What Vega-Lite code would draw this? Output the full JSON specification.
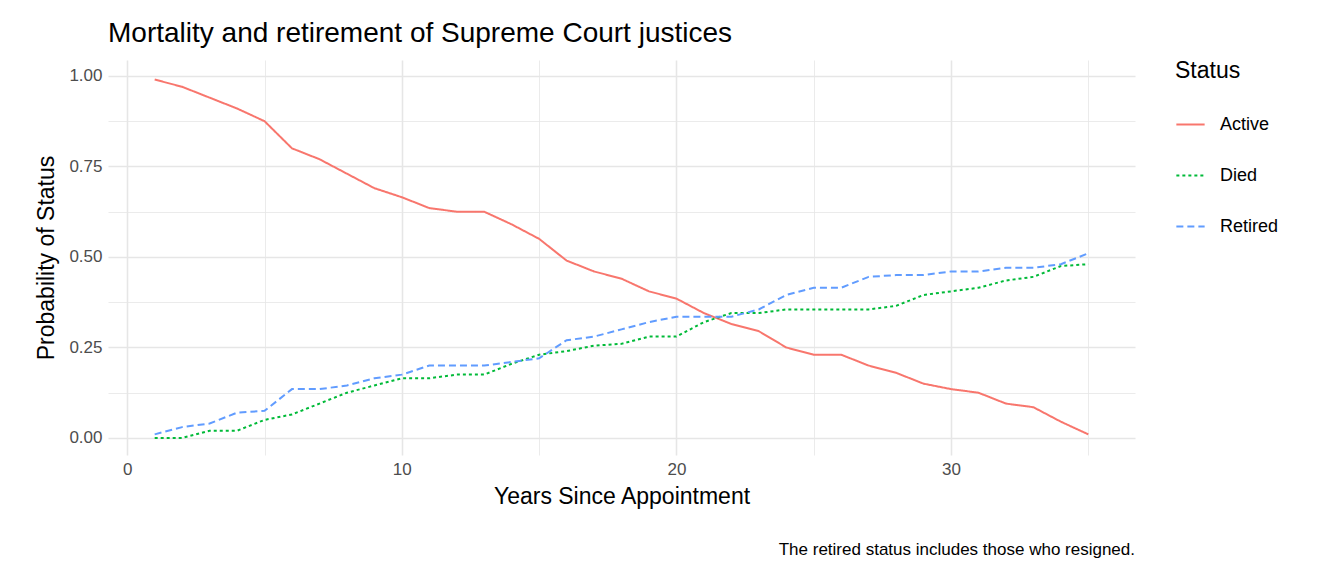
{
  "$schema": "https://vega.github.io/schema/vega-lite/v6.json",
  "autosize": "none",
  "width": 1027,
  "height": 395,
  "padding": {"left": 108, "top": 60, "right": 209, "bottom": 121},
  "background": "white",
  "title": {"text": "Mortality and retirement of Supreme Court justices", "anchor": "start", "frame": "group", "fontSize": 28, "fontWeight": "normal", "font": "Liberation Sans", "color": "black", "offset": 12},
  "data": {"values": [
    {"y":1,"Active":0.99,"Died":0,"Retired":0.01},
    {"y":2,"Active":0.97,"Died":0,"Retired":0.03},
    {"y":3,"Active":0.94,"Died":0.02,"Retired":0.04},
    {"y":4,"Active":0.91,"Died":0.02,"Retired":0.07},
    {"y":5,"Active":0.875,"Died":0.05,"Retired":0.075},
    {"y":6,"Active":0.80,"Died":0.065,"Retired":0.135},
    {"y":7,"Active":0.77,"Died":0.095,"Retired":0.135},
    {"y":8,"Active":0.73,"Died":0.125,"Retired":0.145},
    {"y":9,"Active":0.69,"Died":0.145,"Retired":0.165},
    {"y":10,"Active":0.665,"Died":0.165,"Retired":0.175},
    {"y":11,"Active":0.635,"Died":0.165,"Retired":0.2},
    {"y":12,"Active":0.625,"Died":0.175,"Retired":0.2},
    {"y":13,"Active":0.625,"Died":0.175,"Retired":0.2},
    {"y":14,"Active":0.59,"Died":0.205,"Retired":0.21},
    {"y":15,"Active":0.55,"Died":0.23,"Retired":0.22},
    {"y":16,"Active":0.49,"Died":0.24,"Retired":0.27},
    {"y":17,"Active":0.46,"Died":0.255,"Retired":0.28},
    {"y":18,"Active":0.44,"Died":0.26,"Retired":0.3},
    {"y":19,"Active":0.405,"Died":0.28,"Retired":0.32},
    {"y":20,"Active":0.385,"Died":0.28,"Retired":0.335},
    {"y":21,"Active":0.345,"Died":0.32,"Retired":0.335},
    {"y":22,"Active":0.315,"Died":0.345,"Retired":0.335},
    {"y":23,"Active":0.295,"Died":0.345,"Retired":0.355},
    {"y":24,"Active":0.25,"Died":0.355,"Retired":0.395},
    {"y":25,"Active":0.23,"Died":0.355,"Retired":0.415},
    {"y":26,"Active":0.23,"Died":0.355,"Retired":0.415},
    {"y":27,"Active":0.2,"Died":0.355,"Retired":0.445},
    {"y":28,"Active":0.18,"Died":0.365,"Retired":0.45},
    {"y":29,"Active":0.15,"Died":0.395,"Retired":0.45},
    {"y":30,"Active":0.135,"Died":0.405,"Retired":0.46},
    {"y":31,"Active":0.125,"Died":0.415,"Retired":0.46},
    {"y":32,"Active":0.095,"Died":0.435,"Retired":0.47},
    {"y":33,"Active":0.085,"Died":0.445,"Retired":0.47},
    {"y":34,"Active":0.045,"Died":0.475,"Retired":0.48},
    {"y":35,"Active":0.01,"Died":0.48,"Retired":0.51}
  ]},
  "layer": [
    {
      "transform": [{"fold": ["Active", "Died", "Retired"], "as": ["Status", "p"]}],
      "mark": {"type": "line", "strokeWidth": 2},
      "encoding": {
        "x": {"field": "y", "type": "quantitative", "scale": {"domain": [-0.7, 36.7], "nice": false, "zero": false},
          "axis": {"values": [0,5,10,15,20,25,30,35], "labelExpr": "datum.value % 10 === 0 ? datum.label : ''", "title": "Years Since Appointment", "titleFontSize": 23, "titleFontWeight": "normal", "titleColor": "black", "titlePadding": 8,
            "gridWidth": {"condition": {"test": "datum.value % 10 === 0", "value": 1.6}, "value": 0.8}}},
        "y": {"field": "p", "type": "quantitative", "scale": {"domain": [-0.047, 1.044], "nice": false, "zero": false},
          "axis": {"values": [0,0.125,0.25,0.375,0.5,0.625,0.75,0.875,1], "format": ".2f", "labelExpr": "(datum.value*4) % 1 === 0 ? datum.label : ''", "title": "Probability of Status", "titleFontSize": 23, "titleFontWeight": "normal", "titleColor": "black", "titlePadding": 10,
            "gridWidth": {"condition": {"test": "(datum.value*4) % 1 === 0", "value": 1.6}, "value": 0.8}}},
        "color": {"field": "Status", "type": "nominal", "scale": {"domain": ["Active","Died","Retired"], "range": ["#F8766D","#00BA38","#619CFF"]}},
        "strokeDash": {"field": "Status", "type": "nominal", "scale": {"domain": ["Active","Died","Retired"], "range": [[1,0],[3,3],[7,4]]}}
      }
    },
    {
      "data": {"values": [{"t": "The retired status includes those who resigned."}]},
      "mark": {"type": "text", "align": "right", "baseline": "middle", "fontSize": 17, "font": "Liberation Sans", "color": "black"},
      "encoding": {
        "x": {"datum": 36.7, "type": "quantitative"},
        "y": {"datum": -0.31, "type": "quantitative"},
        "text": {"field": "t"}
      }
    }
  ],
  "config": {
    "font": "Liberation Sans",
    "view": {"stroke": null},
    "axis": {"domain": false, "ticks": false, "labelFontSize": 17, "labelColor": "#4d4d4d", "gridColor": "#e6e6e6", "labelPadding": 6},
    "legend": {"orient": "right", "offset": 40, "titleFontSize": 23, "titleFontWeight": "normal", "titleColor": "black", "labelFontSize": 18, "labelColor": "black", "symbolType": "stroke", "symbolSize": 800, "symbolStrokeWidth": 2, "rowPadding": 26, "titlePadding": 26, "padding": 0, "labelOffset": 14}
  }
}
